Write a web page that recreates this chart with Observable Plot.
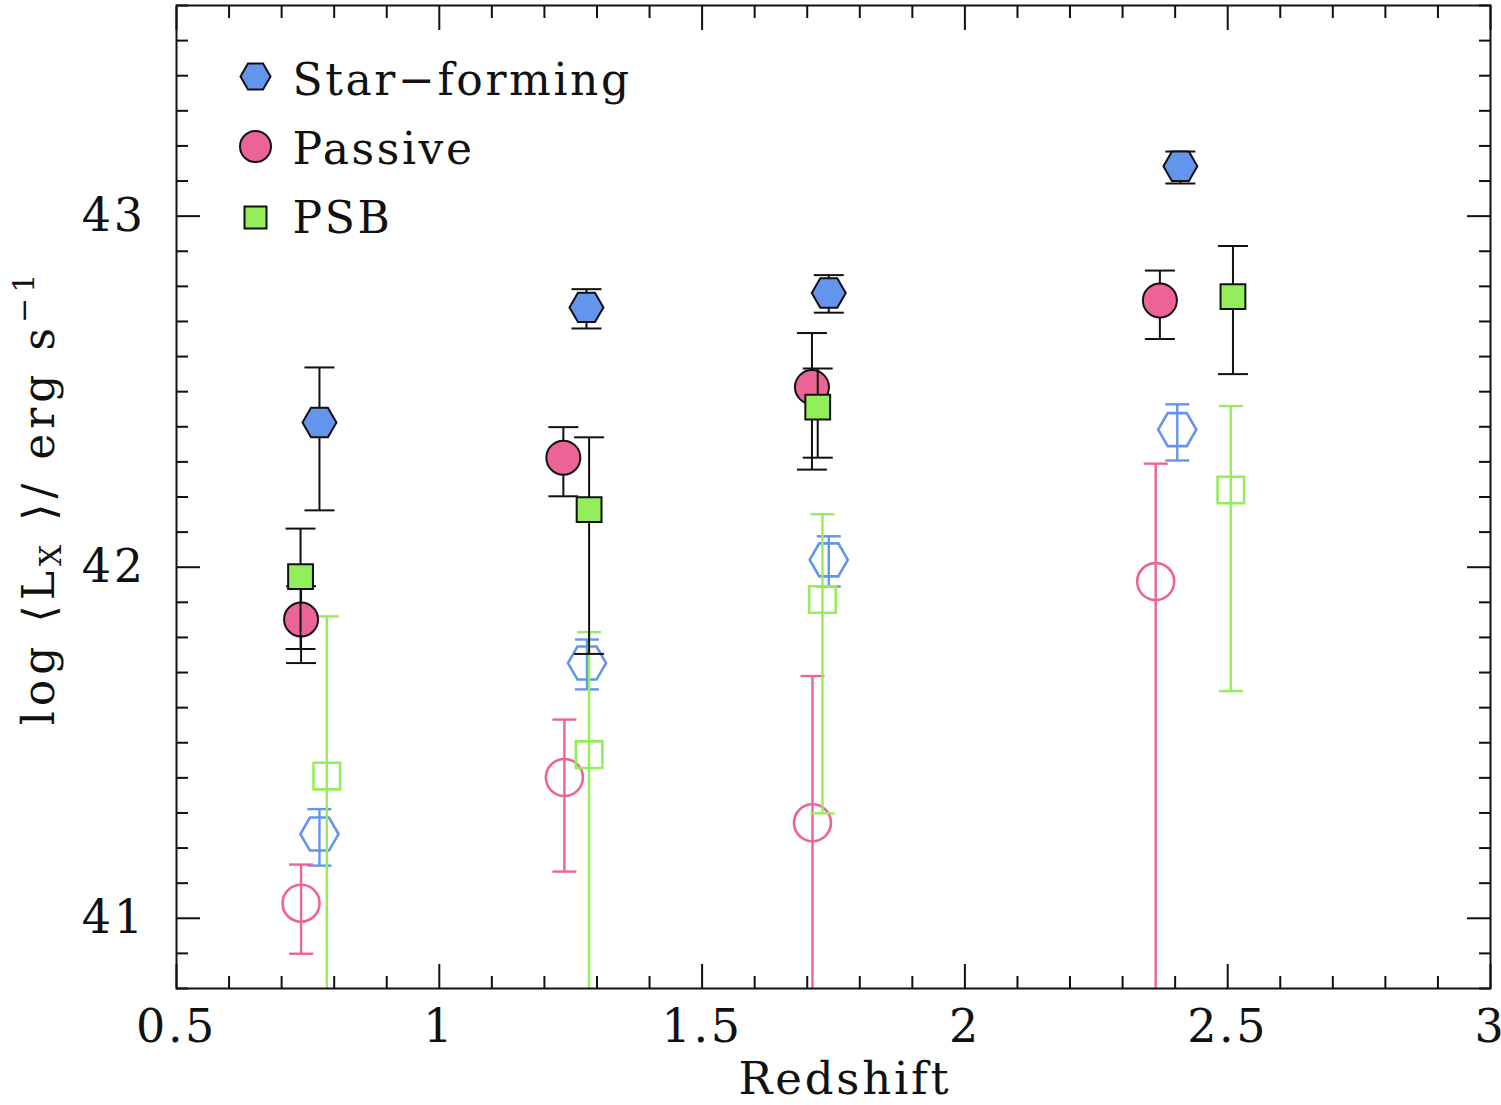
<!DOCTYPE html>
<html>
<head>
<meta charset="utf-8">
<script src="https://cdn.jsdelivr.net/npm/d3@7"></script>
<script src="https://cdn.jsdelivr.net/npm/@observablehq/plot@0.6"></script>
<style>
  html, body { margin: 0; padding: 0; background: #fff; }
  #chart svg { display: block; }
</style>
</head>
<body>
<div id="chart"></div>
<script>
// Mean X-ray luminosity of stacked galaxy samples versus redshift.
// Filled symbols: detected stacks (black error bars); open symbols: second set (coloured bars).

const seriesNames = ["Star\u2212forming", "Passive", "PSB"];

// Star-forming, filled
const sfZ  = [0.772, 1.280, 1.741, 2.410];
const sfL  = [42.412, 42.740, 42.781, 43.142];
const sfLo = [42.162, 42.680, 42.725, 43.093];
const sfHi = [42.569, 42.792, 42.832, 43.184];

// Passive, filled
const pasZ  = [0.737, 1.236, 1.709, 2.371];
const pasL  = [41.851, 42.312, 42.513, 42.760];
const pasLo = [41.727, 42.202, 42.278, 42.650];
const pasHi = [41.946, 42.399, 42.667, 42.845];

// PSB, filled
const psbZ  = [0.736, 1.285, 1.720, 2.510];
const psbL  = [41.973, 42.164, 42.456, 42.771];
const psbLo = [41.767, 41.753, 42.312, 42.550];
const psbHi = [42.110, 42.370, 42.566, 42.915];

// Star-forming, open
const sfOpenZ  = [0.772, 1.281, 1.741, 2.404];
const sfOpenL  = [41.240, 41.727, 42.021, 42.392];
const sfOpenLo = [41.150, 41.652, 41.945, 42.304];
const sfOpenHi = [41.311, 41.794, 42.088, 42.464];

// Passive, open
const pasOpenZ  = [0.737, 1.238, 1.710, 2.363];
const pasOpenL  = [41.043, 41.401, 41.272, 41.959];
const pasOpenLo = [40.899, 41.133, 40.5, 40.5];
const pasOpenHi = [41.153, 41.566, 41.690, 42.295];

// PSB, open
const psbOpenZ  = [0.786, 1.285, 1.729, 2.506];
const psbOpenL  = [41.405, 41.466, 41.908, 42.220];
const psbOpenLo = [40.5, 40.5, 41.299, 41.647];
const psbOpenHi = [41.860, 41.815, 42.151, 42.459];

// Axis ticks
const xMajor = [0.5, 1, 1.5, 2, 2.5, 3];
const xMinor = d3.range(5, 31).map(d => d / 10).filter(d => !xMajor.includes(d));
const yMajor = [41, 42, 43];
const yMinor = d3.range(408, 437).map(d => d / 10).filter(d => !yMajor.includes(d));

const BLUE = "#6495ED", PINK = "#EC6497", GREEN = "#94EE5C";

const rows = (z, l, lo, hi) => z.map((d, i) => ({z: d, l: l[i], lo: lo[i], hi: hi[i]}));

// flat-topped hexagon (vertices to the left and right)
const hexagon = {
  draw(ctx, size) {
    const r = Math.sqrt(size / Math.PI) * 2 / Math.sqrt(3);
    const h = r * Math.sqrt(3) / 2;
    ctx.moveTo(r, 0);
    ctx.lineTo(r / 2, h);
    ctx.lineTo(-r / 2, h);
    ctx.lineTo(-r, 0);
    ctx.lineTo(-r / 2, -h);
    ctx.lineTo(r / 2, -h);
    ctx.closePath();
  }
};
// horizontal error-bar cap; r is the half width
const cap = {
  draw(ctx, size) {
    const w = Math.sqrt(size / Math.PI);
    ctx.moveTo(-w, 0);
    ctx.lineTo(w, 0);
  }
};

function errorBars(data, color, capR, width) {
  return [
    Plot.ruleX(data, {x: "z", y1: "lo", y2: "hi", stroke: color, strokeWidth: width, clip: true}),
    Plot.dot(data, {x: "z", y: "hi", symbol: cap, r: capR, stroke: color, strokeWidth: width, fill: "none", clip: true}),
    Plot.dot(data, {x: "z", y: "lo", symbol: cap, r: capR, stroke: color, strokeWidth: width, fill: "none", clip: true})
  ];
}

const sf = rows(sfZ, sfL, sfLo, sfHi);
const pas = rows(pasZ, pasL, pasLo, pasHi);
const psb = rows(psbZ, psbL, psbLo, psbHi);
const sfOpen = rows(sfOpenZ, sfOpenL, sfOpenLo, sfOpenHi);
const pasOpen = rows(pasOpenZ, pasOpenL, pasOpenLo, pasOpenHi);
const psbOpen = rows(psbOpenZ, psbOpenL, psbOpenLo, psbOpenHi);

const FONT = 46;
const tickStyle = {stroke: "#111", strokeWidth: 2, label: null};

const plot = Plot.plot({
  width: 1501,
  height: 1105,
  marginLeft: 176,
  marginRight: 11,
  marginTop: 5,
  marginBottom: 117,
  style: {fontFamily: "'DejaVu Serif', serif", color: "#111", background: "#fff"},
  x: {domain: [0.5, 3]},
  y: {domain: [40.8, 43.6]},
  marks: [
    // ticks pointing into the frame on all four sides
    Plot.axisX({anchor: "bottom", ticks: xMajor, tickSize: -24, tickPadding: 45, fontSize: FONT,
      tickFormat: d => String(d), ...tickStyle}),
    Plot.axisX({anchor: "bottom", ticks: xMinor, tickSize: -12, fill: "none", ...tickStyle}),
    Plot.axisX({anchor: "top", ticks: xMajor, tickSize: -24, fill: "none", ...tickStyle}),
    Plot.axisX({anchor: "top", ticks: xMinor, tickSize: -12, fill: "none", ...tickStyle}),
    Plot.axisY({anchor: "left", ticks: yMajor, tickSize: -24, tickPadding: 55, fontSize: FONT,
      tickFormat: d => String(d), ...tickStyle}),
    Plot.axisY({anchor: "left", ticks: yMinor, tickSize: -12, fill: "none", ...tickStyle}),
    Plot.axisY({anchor: "right", ticks: yMajor, tickSize: -24, fill: "none", ...tickStyle}),
    Plot.axisY({anchor: "right", ticks: yMinor, tickSize: -12, fill: "none", ...tickStyle}),

    // open symbols with coloured error bars
    ...errorBars(sfOpen, BLUE, 12, 2.4),
    Plot.dot(sfOpen, {x: "z", y: "l", symbol: hexagon, r: 16.5, stroke: BLUE, strokeWidth: 2.6, fill: "none"}),
    ...errorBars(pasOpen, PINK, 12, 2.4),
    Plot.dot(pasOpen, {x: "z", y: "l", symbol: "circle", r: 18.5, stroke: PINK, strokeWidth: 2.6, fill: "none"}),
    ...errorBars(psbOpen, GREEN, 12, 2.4),
    Plot.dot(psbOpen, {x: "z", y: "l", symbol: "square", r: 15, stroke: GREEN, strokeWidth: 2.6, fill: "none"}),

    // filled symbols with black error bars
    ...errorBars(sf, "#111", 15, 2),
    Plot.dot(sf, {x: "z", y: "l", symbol: hexagon, r: 14.7, fill: BLUE, stroke: "#111", strokeWidth: 2}),
    ...errorBars(pas, "#111", 15, 2),
    Plot.dot(pas, {x: "z", y: "l", symbol: "circle", r: 17, fill: PINK, stroke: "#111", strokeWidth: 2}),
    ...errorBars(psb, "#111", 15, 2),
    Plot.dot(psb, {x: "z", y: "l", symbol: "square", r: 14, fill: GREEN, stroke: "#111", strokeWidth: 2}),

    // legend
    Plot.dot([seriesNames[0]], {frameAnchor: "top-left", dx: 79, dy: 71, symbol: hexagon, r: 13, fill: BLUE, stroke: "#111", strokeWidth: 2}),
    Plot.dot([seriesNames[1]], {frameAnchor: "top-left", dx: 79, dy: 141, symbol: "circle", r: 15.5, fill: PINK, stroke: "#111", strokeWidth: 2}),
    Plot.dot([seriesNames[2]], {frameAnchor: "top-left", dx: 79, dy: 212, symbol: "square", r: 12.4, fill: GREEN, stroke: "#111", strokeWidth: 2}),
    Plot.text([seriesNames[0]], {text: d => d, frameAnchor: "top-left", dx: 116, dy: 75, textAnchor: "start", lineAnchor: "middle", fontSize: 44, fill: "#111"}),
    Plot.text([seriesNames[1]], {text: d => d, frameAnchor: "top-left", dx: 116, dy: 144, textAnchor: "start", lineAnchor: "middle", fontSize: 44, fill: "#111"}),
    Plot.text([seriesNames[2]], {text: d => d, frameAnchor: "top-left", dx: 116, dy: 213, textAnchor: "start", lineAnchor: "middle", fontSize: 44, fill: "#111"}),

    Plot.frame({stroke: "#111", strokeWidth: 2})
  ]
});

const svg = d3.select(plot);
svg.selectAll("text").attr("letter-spacing", "2.6px");

// x-axis title
svg.append("text")
  .attr("x", 845).attr("y", 1094)
  .attr("text-anchor", "middle")
  .attr("font-size", 45)
  .attr("letter-spacing", "2.8px")
  .attr("fill", "#111")
  .text("Redshift");

// y-axis title with subscript and superscript
const yTitle = svg.append("text")
  .attr("transform", "translate(54,497) rotate(-90)")
  .attr("text-anchor", "middle")
  .attr("font-size", 44)
  .attr("letter-spacing", "5px")
  .attr("fill", "#111");
yTitle.append("tspan").text("log \u27e8L");
yTitle.append("tspan").attr("font-size", 30).attr("dy", 7).text("X");
yTitle.append("tspan").attr("dy", -7).text(" \u27e9/ erg s");
yTitle.append("tspan").attr("font-size", 30).attr("dy", -20).text("\u22121");

document.getElementById("chart").appendChild(plot);
</script>
</body>
</html>
